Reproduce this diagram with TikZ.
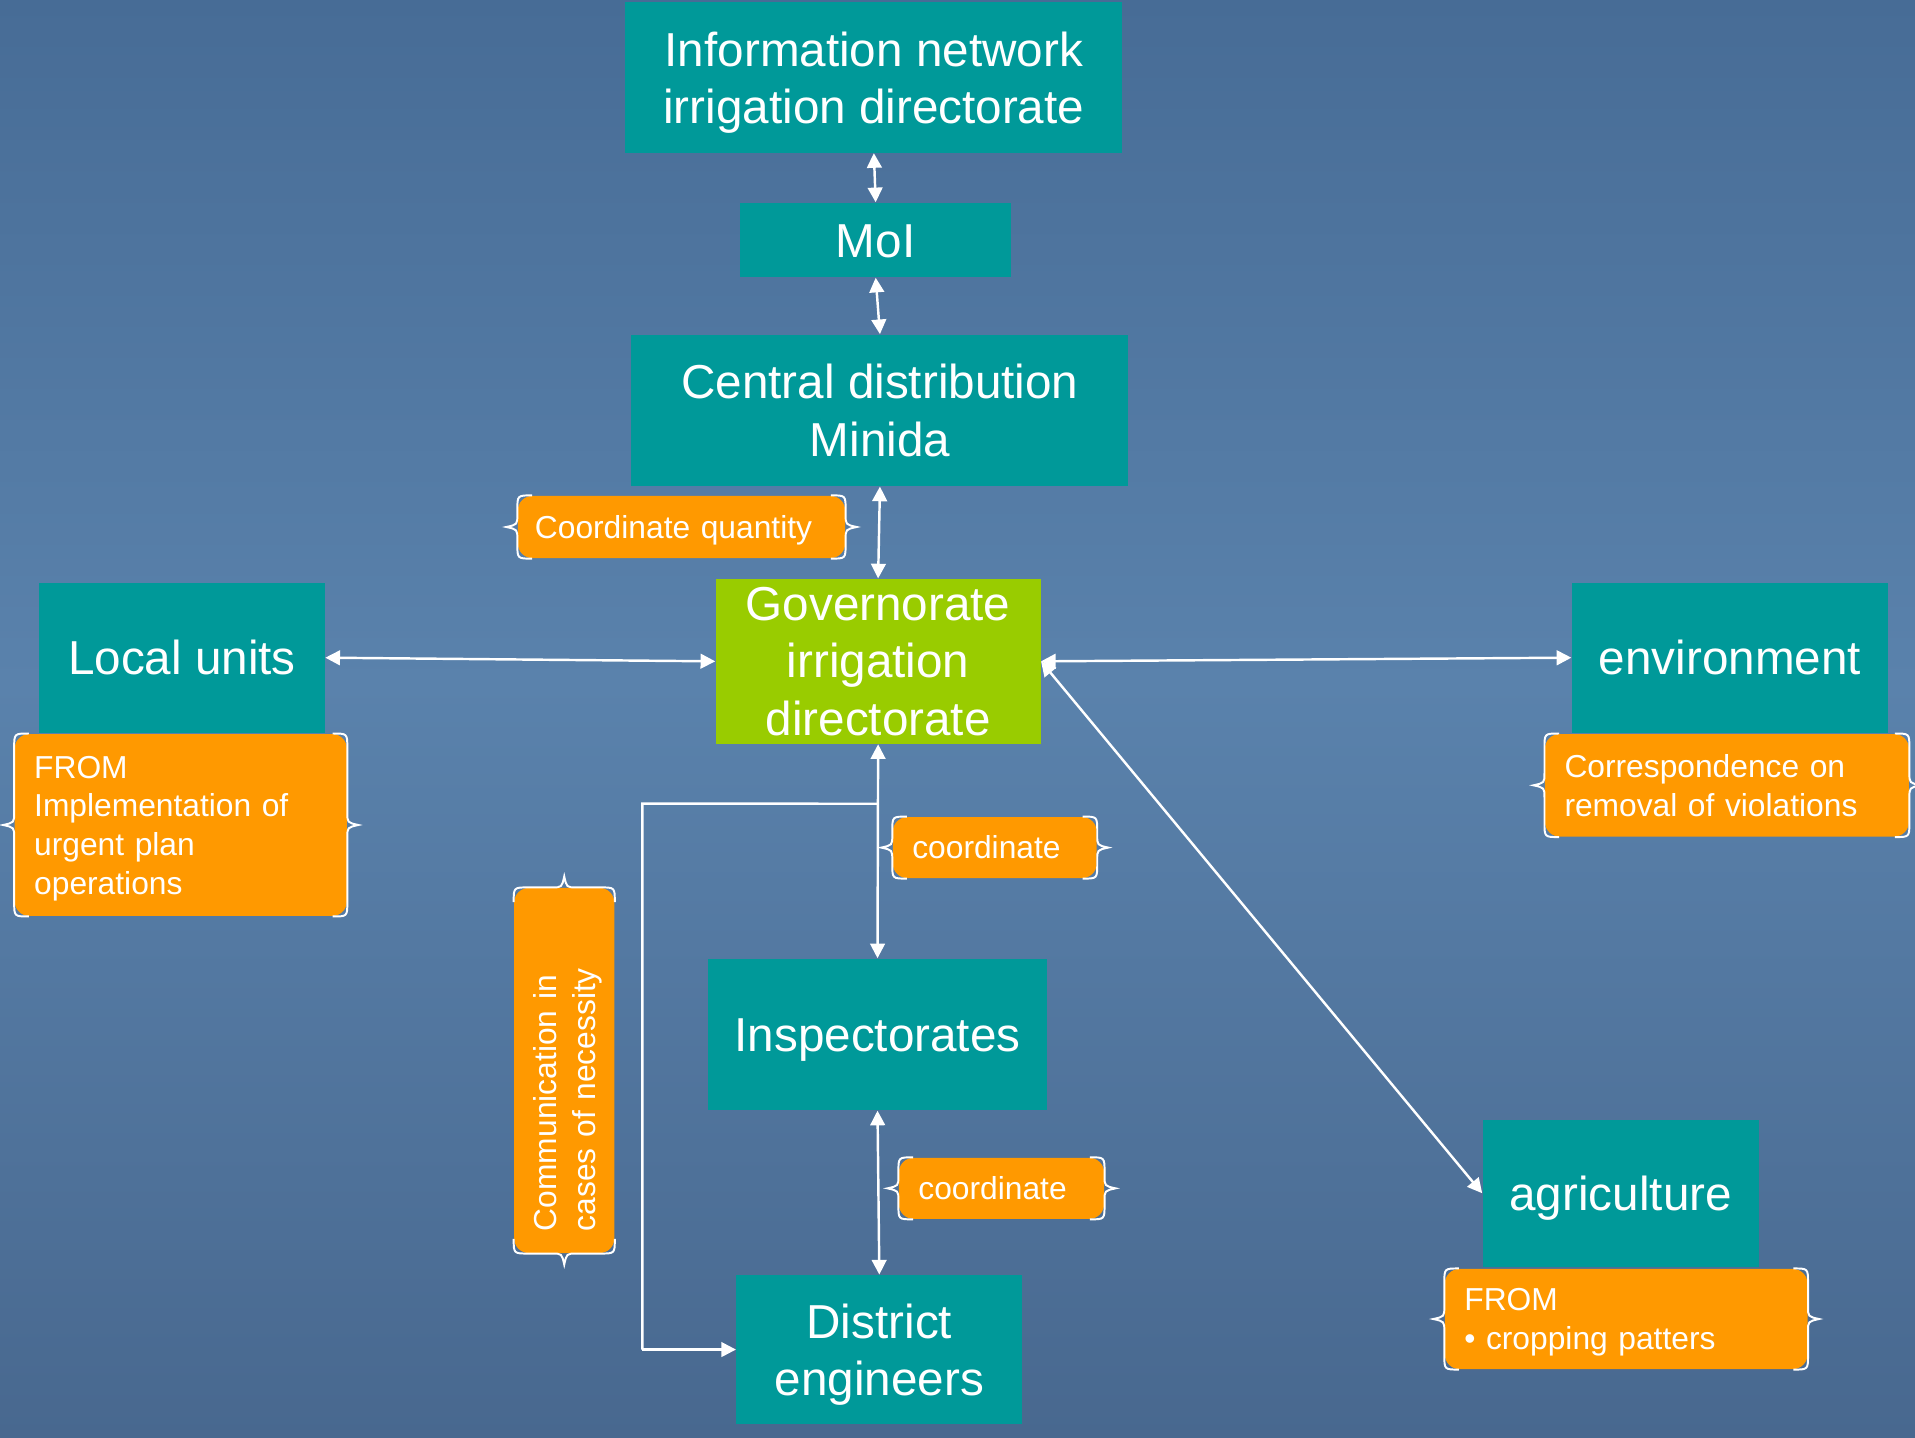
\documentclass[tikz,border=0pt]{standalone}
\usepackage{fontspec}
\setmainfont{Liberation Sans}
\usetikzlibrary{arrows.meta,calc}
\definecolor{teal1}{HTML}{009999}
\definecolor{green1}{HTML}{99CC00}
\definecolor{orange1}{HTML}{FF9900}
\definecolor{bgtop}{HTML}{476C96}
\definecolor{bgmid}{HTML}{5A82AC}
\definecolor{bgbot}{HTML}{48688F}
\newcommand\obraces[1]{%
  \draw[brc] ($(#1.north west)!6pt!(#1.north east)$) .. controls (#1.north west) .. ($(#1.north west)!6pt!(#1.south west)$)
    -- ($(#1.west)!5pt!(#1.north west)$) .. controls ($(#1.west)!1pt!(#1.north west)$) .. ($(#1.west)!4.5pt!90:(#1.north west)$)
    .. controls ($(#1.west)!1pt!(#1.south west)$) .. ($(#1.west)!5pt!(#1.south west)$)
    -- ($(#1.south west)!6pt!(#1.north west)$) .. controls (#1.south west) .. ($(#1.south west)!6pt!(#1.south east)$);
  \draw[brc] ($(#1.north east)!6pt!(#1.north west)$) .. controls (#1.north east) .. ($(#1.north east)!6pt!(#1.south east)$)
    -- ($(#1.east)!5pt!(#1.north east)$) .. controls ($(#1.east)!1pt!(#1.north east)$) .. ($(#1.east)!4.5pt!-90:(#1.north east)$)
    .. controls ($(#1.east)!1pt!(#1.south east)$) .. ($(#1.east)!5pt!(#1.south east)$)
    -- ($(#1.south east)!6pt!(#1.north east)$) .. controls (#1.south east) .. ($(#1.south east)!6pt!(#1.south west)$);
}
\tikzset{
  mainbox/.style={fill=teal1, text=white, inner sep=0pt, align=center, text depth=0pt,
    font=\fontsize{19.5pt}{23.5pt}\selectfont},
  oneline/.style={text height=14pt, text depth=0pt},
  govbox/.style={mainbox, fill=green1},
  obox/.style={fill=orange1, text=white, rounded corners=6pt, inner xsep=8pt, inner ysep=0pt,
    align=left, text height=9.3pt, font=\fontsize{13pt}{15.9pt}\selectfont},
  brc/.style={draw=white, line width=0.8pt},
  arr/.style={draw=white, line width=1pt, -{Triangle[length=6pt,width=6pt]}},
  darr/.style={draw=white, line width=1pt, {Triangle[length=6pt,width=6pt]}-{Triangle[length=6pt,width=6pt]}},
  plain/.style={draw=white, line width=1pt}
}
\begin{document}
\begin{tikzpicture}[x=0.5pt,y=-0.5pt]
\useasboundingbox (0,0) rectangle (1568,1177.4);
\fill[top color=bgtop, bottom color=bgmid] (0,0) rectangle (1568,560);
\fill[top color=bgmid, bottom color=bgbot] (0,559) rectangle (1568,1177.4);

% main boxes
\node[mainbox, minimum width=203.5pt, minimum height=61.5pt] (info) at (715.5,63.5) {Information network\\irrigation directorate};
\node[mainbox, oneline, minimum width=111pt, minimum height=30.5pt] (moi) at (717,196.5) {MoI};
\node[mainbox, minimum width=203.5pt, minimum height=62pt] (central) at (720.5,336) {Central distribution\\Minida};
\node[govbox, minimum width=133pt, minimum height=67.5pt] (gov) at (719,541.5) {Governorate\\irrigation\\directorate};
\node[mainbox, oneline, minimum width=117pt, minimum height=61.5pt] (local) at (149,538.5) {Local units};
\node[mainbox, oneline, minimum width=129.5pt, minimum height=61.5pt] (env) at (1416.5,538.5) {environment};
\node[mainbox, oneline, minimum width=138.5pt, minimum height=62pt] (insp) at (718.5,847) {Inspectorates};
\node[mainbox, minimum width=117pt, minimum height=61pt] (district) at (720,1105) {District\\engineers};
\node[mainbox, oneline, minimum width=113pt, minimum height=60pt] (agri) at (1327,977) {agriculture};

% orange boxes
\node[obox, text depth=0pt, inner xsep=7pt, text width=120pt, minimum height=25.5pt] (cq) at (558,431.5) {Coordinate quantity};
\node[obox, text depth=47.7pt, text width=120pt, minimum height=74.5pt] (from1) at (148,675.5) {FROM\\Implementation of\\urgent plan\\operations};
\node[obox, text depth=15.9pt, text width=133pt, minimum height=42pt] (corr) at (1414,643) {Correspondence on\\removal of violations};
\node[obox, text depth=0pt, text width=67.5pt, minimum height=25pt] (coordA) at (814.5,694) {coordinate};
\node[obox, text depth=0pt, text width=68pt, minimum height=25pt] (coordB) at (820,973) {coordinate};
\node[obox, text depth=15.9pt, text width=132.5pt, minimum height=41pt] (from2) at (1331.5,1080) {FROM\\\textbullet\ cropping patters};
\node[obox, text depth=15.9pt, rotate=90, inner xsep=9pt, text width=131.5pt, minimum height=41pt] (comm) at (462,876.5) {Communication in\\cases of necessity};

\obraces{cq}
\obraces{from1}
\obraces{corr}
\obraces{coordA}
\obraces{coordB}
\obraces{from2}
\obraces{comm}

% connectors
\draw[darr] (info.south) -- (moi.north);
\draw[darr] (moi.south) -- (central.north);
\draw[darr] (central.south) -- (gov.north);
\draw[darr] (local.east) -- (gov.west);
\draw[darr] (gov.east) -- (env.west);
\draw[darr] (gov.east) -- (agri.west);
\draw[darr] (gov.south) -- (insp.north);
\draw[darr] (insp.south) -- (district.north);
\coordinate (j) at ($(gov.south)!0.278!(insp.north)$);
\coordinate (c1) at (526,658);
\coordinate (c2) at (526,1105);
\draw[plain] (j) -- (c1) -- (c2);
\draw[arr] (c2) -- (district.west);
\end{tikzpicture}
\end{document}
